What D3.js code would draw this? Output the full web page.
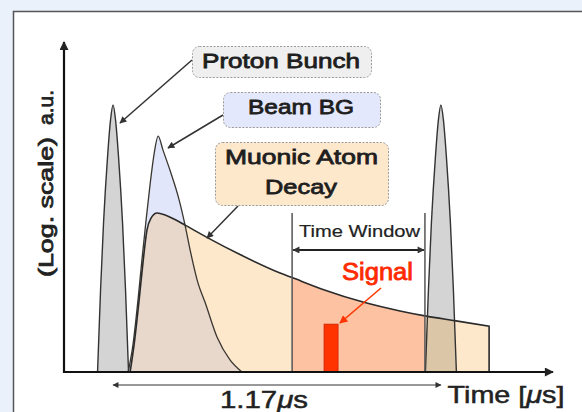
<!DOCTYPE html>
<html><head><meta charset="utf-8">
<script src="https://cdn.jsdelivr.net/npm/d3@7"></script>
<style>
html,body{margin:0;padding:0;background:#eaf1fa;}
svg{display:block;}
text{font-family:"Liberation Sans",Arial,Helvetica,sans-serif;}
</style></head>
<body>
<svg id="chart" width="582" height="412"></svg>
<script>
// ---- data (time in μs, value in log a.u.) ----
const protonTimes = [0, 1.17];
const protonProfile = [[-0.0553,0],[-0.0446,2.48],[-0.0339,4.52],[-0.0196,6.52],[-0.0089,7.64],[0,8.09],
  [0.0089,7.64],[0.0196,6.52],[0.0339,4.52],[0.0446,2.48],[0.0553,0]];
const beamBG = [[0.054,0],[0.071,0.82],[0.089,2.18],[0.103,3.39],[0.118,4.61],[0.132,5.67],[0.146,6.58],
  [0.161,7.15],[0.178,6.73],[0.203,6.12],[0.236,5.21],[0.257,4.45],[0.275,3.70],[0.303,2.70],
  [0.328,2.12],[0.371,1.06],[0.418,0.36],[0.460,0]];
const decay = [[0.061,0],[0.075,0.82],[0.093,2.18],[0.107,3.33],[0.121,4.30],[0.136,4.67],[0.157,4.82],
  [0.186,4.76],[0.221,4.62],[0.257,4.45],[0.335,4.08],[0.453,3.56],[0.596,3.00],[0.639,2.86],
  [0.757,2.48],[0.892,2.12],[1.024,1.85],[1.113,1.70],[1.224,1.55],[1.342,1.39]];
const timeWindow = [0.639, 1.113];
const windowTop = 4.82;
const windowArrowLevel = 3.7;
const signalRange = [0.753, 0.803];
const signalValue = 1.45;
const labels = {proton:"Proton Bunch", beam:"Beam BG", decay1:"Muonic Atom", decay2:"Decay",
  window:"Time Window", signal:"Signal", yA:"(Log. scale)", yB:"a.u.", x:"Time [", xUnit:"μ", xEnd:"s]",
  spacing:"1.17", spacingUnit:"μ", spacingEnd:"s"};

// ---- scales ----
const x = d3.scaleLinear().domain([-0.175, 1.57]).range([64, 553]);
const y = d3.scaleLinear().domain([0, 10]).range([372, 42]);

const svg = d3.select("#chart");
const defs = svg.append("defs");
function marker(id, color, w, h){
  defs.append("marker").attr("id",id).attr("viewBox","0 0 10 10").attr("refX",9).attr("refY",5)
    .attr("markerWidth",w).attr("markerHeight",h).attr("markerUnits","userSpaceOnUse").attr("orient","auto-start-reverse")
    .append("path").attr("d","M0,0L10,5L0,10z").attr("fill",color);
}
marker("arr","#222",11,9);
marker("arrS","#333",8,7);
marker("arrR","#ff3300",9,8);
marker("arrT","#333",7,6);

// panel
svg.append("rect").attr("x",13.5).attr("y",11.5).attr("width",620).attr("height",450)
  .attr("fill","#fff").attr("stroke","#555").attr("stroke-width",1.5);

const area = d3.area().x(d=>x(d[0])).y0(y(0)).y1(d=>y(d[1])).curve(d3.curveMonotoneX);
const line = d3.line().x(d=>x(d[0])).y(d=>y(d[1])).curve(d3.curveMonotoneX);

defs.append("clipPath").attr("id","decayClip").append("path").attr("d", area(decay));
defs.append("clipPath").attr("id","winClip").append("rect")
  .attr("x",x(timeWindow[0])).attr("y",0).attr("width",x(timeWindow[1])-x(timeWindow[0])).attr("height",412);

// fills
svg.append("path").attr("d",area(beamBG)).attr("fill","#e2e6fb");
svg.append("path").attr("d",area(decay)).attr("fill","#fde8cc");
svg.append("path").attr("d",area(decay)).attr("fill","#fcc2a2").attr("clip-path","url(#winClip)");
svg.append("path").attr("d",area(beamBG)).attr("fill","#e8d7cb").attr("clip-path","url(#decayClip)");

const protonData = protonTimes.map(t0 => protonProfile.map(p => [t0+p[0], p[1]]));
protonData.forEach(pd => {
  svg.append("path").attr("d",area(pd)).attr("fill","#d4d4d4");
  svg.append("path").attr("d",area(pd)).attr("fill","#dcc6a8").attr("clip-path","url(#decayClip)");
});

// signal
svg.append("rect").attr("x",x(signalRange[0])).attr("y",y(signalValue))
  .attr("width",x(signalRange[1])-x(signalRange[0])).attr("height",y(0)-y(signalValue))
  .attr("fill","#ff3300").attr("stroke","#d02000").attr("stroke-width",0.8);

// outlines
svg.append("path").attr("d",line(beamBG)).attr("fill","none").attr("stroke","#3a3630").attr("stroke-width",1.3);
svg.append("path").attr("d",line(decay)+"L"+x(decay[decay.length-1][0])+","+y(0)).attr("fill","none").attr("stroke","#2a2a2a").attr("stroke-width",1.6);
protonData.forEach(pd => {
  svg.append("path").attr("d",line(pd)).attr("fill","none").attr("stroke","#333").attr("stroke-width",1.4);
});

// time window
timeWindow.forEach(t => {
  svg.append("line").attr("x1",x(t)).attr("x2",x(t)).attr("y1",y(windowTop)).attr("y2",y(0))
    .attr("stroke","#555").attr("stroke-width",1.5);
});
svg.append("line").attr("x1",x(timeWindow[0])+1).attr("x2",x(timeWindow[1])-1)
  .attr("y1",y(windowArrowLevel)).attr("y2",y(windowArrowLevel))
  .attr("stroke","#222").attr("stroke-width",2).attr("marker-start","url(#arrS)").attr("marker-end","url(#arrS)");
svg.append("text").attr("x",(x(timeWindow[0])+x(timeWindow[1]))/2+1).attr("y",237)
  .attr("text-anchor","middle").attr("font-size",16).attr("fill","#222")
  .attr("stroke","#222").attr("stroke-width",0.2)
  .attr("textLength",121).attr("lengthAdjust","spacingAndGlyphs").text(labels.window);

// axes
svg.append("line").attr("x1",x.range()[0]).attr("x2",x.range()[1]).attr("y1",y(0)).attr("y2",y(0))
  .attr("stroke","#111").attr("stroke-width",2.2).attr("marker-end","url(#arr)");
svg.append("line").attr("x1",x.range()[0]).attr("x2",x.range()[0]).attr("y1",y(0)+1).attr("y2",y.range()[1])
  .attr("stroke","#111").attr("stroke-width",2.2).attr("marker-end","url(#arr)");

// bunch spacing arrow
svg.append("line").attr("x1",x(protonTimes[0])).attr("x2",x(protonTimes[1])).attr("y1",385).attr("y2",385)
  .attr("stroke","#333").attr("stroke-width",1).attr("marker-start","url(#arrT)").attr("marker-end","url(#arrT)");
const sp = svg.append("text").attr("x",264).attr("y",408).attr("text-anchor","middle").attr("font-size",24)
  .attr("fill","#222").attr("stroke","#222").attr("stroke-width",0.5)
  .attr("textLength",88).attr("lengthAdjust","spacingAndGlyphs");
sp.append("tspan").text(labels.spacing);
sp.append("tspan").attr("font-style","italic").text(labels.spacingUnit);
sp.append("tspan").text(labels.spacingEnd);

const xl = svg.append("text").attr("x",506).attr("y",403).attr("text-anchor","middle").attr("font-size",24)
  .attr("fill","#222").attr("stroke","#222").attr("stroke-width",0.5)
  .attr("textLength",117).attr("lengthAdjust","spacingAndGlyphs");
xl.append("tspan").text(labels.x);
xl.append("tspan").attr("font-style","italic").text(labels.xUnit);
xl.append("tspan").text(labels.xEnd);

// y label
function ylab(cy,len,str){
  svg.append("text").attr("transform","translate(53,"+cy+") rotate(-90)").attr("text-anchor","middle")
    .attr("font-size",21).attr("fill","#222").attr("stroke","#222").attr("stroke-width",0.8)
    .attr("textLength",len).attr("lengthAdjust","spacingAndGlyphs").text(str);
}
ylab(207,140,labels.yA);
ylab(107.5,35,labels.yB);

// annotation arrows
function arrow(x1,y1,x2,y2,color,m,w){
  svg.append("line").attr("x1",x1).attr("y1",y1).attr("x2",x2).attr("y2",y2)
    .attr("stroke",color).attr("stroke-width",w).attr("marker-end","url(#"+m+")");
}
arrow(192,60,120,123,"#333","arrS",1.5);
arrow(223,115,168,148,"#333","arrS",1.5);
arrow(238,206,207,238,"#333","arrS",1.5);
arrow(381,288,340,323,"#ff3300","arrR",1.5);

// label boxes
function box(bx,by,bw,bh,fill){
  svg.append("rect").attr("x",bx).attr("y",by).attr("width",bw).attr("height",bh).attr("rx",7)
    .attr("fill",fill).attr("stroke","#9a9a9a").attr("stroke-width",1).attr("stroke-dasharray","2,1.5");
}
function label(tx,ty,len,str,color,size){
  svg.append("text").attr("x",tx).attr("y",ty).attr("text-anchor","middle").attr("font-size",size||21)
    .attr("fill",color||"#1e1e1e").attr("stroke",color||"#1e1e1e").attr("stroke-width",0.8)
    .attr("textLength",len).attr("lengthAdjust","spacingAndGlyphs").text(str);
}
box(192.5,46.5,179,31,"#efefef");
label(281,67.5,158,labels.proton);
box(223.5,92.5,157,35,"#e4e8fc");
label(301,113.5,106,labels.beam);
box(215.5,142.5,173,63,"#fde8cc");
label(301.5,164,153,labels.decay1);
label(301,193.5,72,labels.decay2);
label(377.5,280,71,labels.signal,"#ff2a00",23);
</script>
</body></html>
